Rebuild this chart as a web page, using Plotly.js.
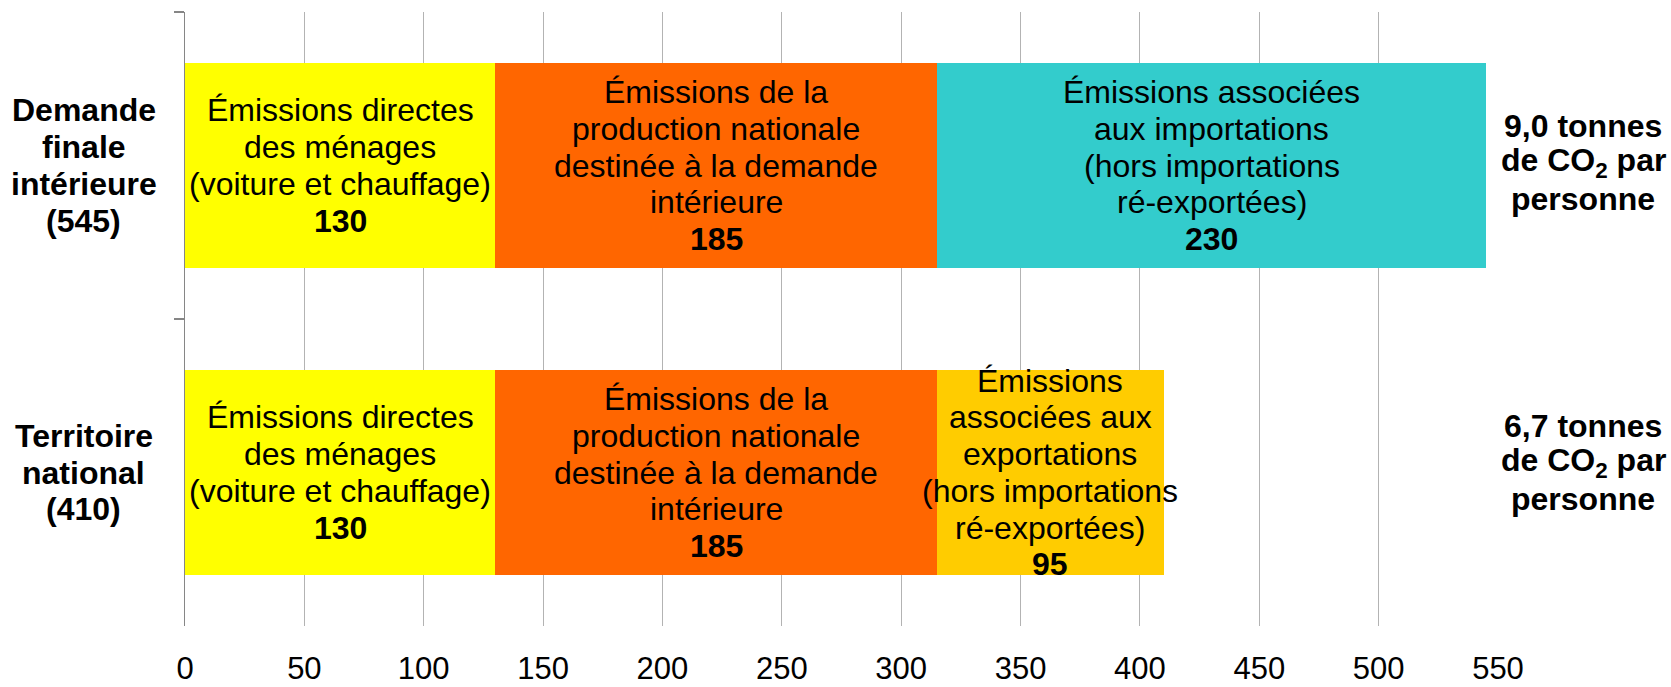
<!DOCTYPE html>
<html><head><meta charset="utf-8">
<script src="https://cdn.plot.ly/plotly-3.0.1.min.js"></script>
<style>html,body{margin:0;padding:0;background:#fff}#chart{width:1671px;height:687px}</style>
</head><body><div id="chart"></div>
<script>
// ---- data ----
const categories = ["Demande finale intérieure (545)", "Territoire national (410)"];
const categoryLabels = [["Demande", "finale", "intérieure", "(545)"], ["Territoire", "national", "(410)"]];
const directValues = [130, 130];
const productionValues = [185, 185];
const tradeValues = [230, 95];
const directLabel = ["Émissions directes", "des ménages", "(voiture et chauffage)"];
const productionLabel = ["Émissions de la", "production nationale", "destinée à la demande", "intérieure"];
const tradeLabels = [
  ["Émissions associées", "aux importations", "(hors importations", "ré-exportées)"],
  ["Émissions", "associées aux", "exportations", "(hors importations", "ré-exportées)"]
];
const perPersonLabels = [
  ["9,0 tonnes", "de CO<sub>2</sub> par", "personne"],
  ["6,7 tonnes", "de CO<sub>2</sub> par", "personne"]
];
const xTickValues = [0, 50, 100, 150, 200, 250, 300, 350, 400, 450, 500, 550];

// ---- style ----
const FONT = "Liberation Sans, Arial, sans-serif";
const LINE_H = 36.7;
const TEXT_SIZE = 32;
const colors = { direct: "#FFFF00", production: "#FF6600", trade: ["#33CCCC", "#FFCC00"] };

const traces = [
  { type: "bar", orientation: "h", y: categories, x: directValues, marker: { color: colors.direct }, hoverinfo: "x", textposition: "none" },
  { type: "bar", orientation: "h", y: categories, x: productionValues, marker: { color: colors.production }, hoverinfo: "x", textposition: "none" },
  { type: "bar", orientation: "h", y: categories, x: tradeValues, marker: { color: colors.trade }, hoverinfo: "x", textposition: "none" }
];

const annotations = [];
function addLines(lines, x, y, xref, yref, bold, centerShift) {
  const n = lines.length;
  lines.forEach((t, k) => {
    annotations.push({
      x: x, y: y, xref: xref, yref: yref,
      text: bold ? "<b>" + t + "</b>" : t,
      showarrow: false, xanchor: "center", yanchor: "middle", align: "center",
      yshift: ((n - 1) / 2 - k) * LINE_H + (centerShift || 0),
      font: { family: FONT, size: TEXT_SIZE, color: "#000" }
    });
  });
}

categories.forEach((c, i) => {
  let base = 0;
  const segs = [
    [directValues[i], directLabel],
    [productionValues[i], productionLabel],
    [tradeValues[i], tradeLabels[i]]
  ];
  segs.forEach(([v, lbl]) => {
    const lines = lbl.concat(["<b>" + v + "</b>"]);
    addLines(lines, base + v / 2, c, "x", "y", false, 0);
    base += v;
  });
  addLines(categoryLabels[i], -0.077, c, "paper", "y", true, 0);
  addLines(perPersonLabels[i], 1.065, c, "paper", "y", true, i === 0 ? 3 : 10);
});

const layout = {
  width: 1671, height: 687,
  margin: { l: 185, r: 173, t: 12, b: 61 },
  paper_bgcolor: "#fff", plot_bgcolor: "#fff",
  barmode: "stack", bargap: 0.333,
  showlegend: false,
  font: { family: FONT, size: 31, color: "#000" },
  xaxis: {
    range: [0, 550], tickvals: xTickValues, ticktext: xTickValues.map(String),
    showgrid: true, gridcolor: "#b3b3b3", gridwidth: 1,
    zeroline: false, showline: false, ticks: "",
    ticklabelstandoff: 21,
    tickfont: { family: FONT, size: 31, color: "#000" }
  },
  yaxis: {
    type: "category", autorange: "reversed",
    showticklabels: false, showgrid: false, zeroline: false,
    showline: true, linecolor: "#868686", linewidth: 1.5,
    ticks: "outside", tickson: "boundaries", ticklen: 10, tickcolor: "#868686", tickwidth: 1.5
  },
  annotations: annotations
};

Plotly.newPlot("chart", traces, layout, { displayModeBar: false, staticPlot: true });
</script>
</body></html>
